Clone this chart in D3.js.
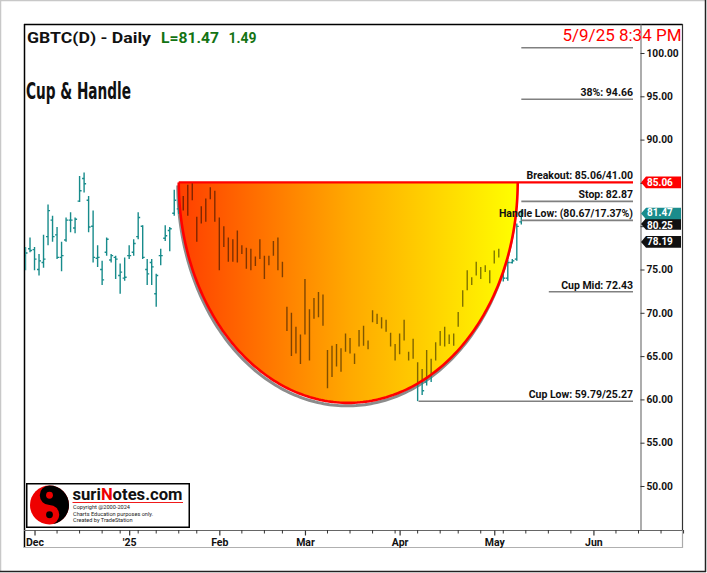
<!DOCTYPE html>
<html><head><meta charset="utf-8">
<script src="https://cdn.jsdelivr.net/npm/d3@7"></script>
<style>body{margin:0;background:#fff;}svg{display:block;}</style>
</head><body><svg id="c" width="707" height="573"></svg>
<script>
// ---------- DATA ----------
const dates = [
"2024-11-27","2024-11-29",
"2024-12-02","2024-12-03","2024-12-04","2024-12-05","2024-12-06","2024-12-09","2024-12-10","2024-12-11","2024-12-12","2024-12-13",
"2024-12-16","2024-12-17","2024-12-18","2024-12-19","2024-12-20","2024-12-23","2024-12-24","2024-12-26","2024-12-27","2024-12-30","2024-12-31",
"2025-01-02","2025-01-03","2025-01-06","2025-01-07","2025-01-08","2025-01-10","2025-01-13","2025-01-14","2025-01-15","2025-01-16","2025-01-17",
"2025-01-21","2025-01-22","2025-01-23","2025-01-24","2025-01-27","2025-01-28","2025-01-29","2025-01-30","2025-01-31",
"2025-02-03","2025-02-04","2025-02-05","2025-02-06","2025-02-07","2025-02-10","2025-02-11","2025-02-12","2025-02-13","2025-02-14",
"2025-02-18","2025-02-19","2025-02-20","2025-02-21","2025-02-24","2025-02-25","2025-02-26","2025-02-27","2025-02-28",
"2025-03-03","2025-03-04","2025-03-05","2025-03-06","2025-03-07","2025-03-10","2025-03-11","2025-03-12","2025-03-13","2025-03-14",
"2025-03-17","2025-03-18","2025-03-19","2025-03-20","2025-03-21","2025-03-24","2025-03-25","2025-03-26","2025-03-27","2025-03-28","2025-03-31",
"2025-04-01","2025-04-02","2025-04-03","2025-04-04","2025-04-07","2025-04-08","2025-04-09","2025-04-10","2025-04-11",
"2025-04-14","2025-04-15","2025-04-16","2025-04-17","2025-04-21","2025-04-22","2025-04-23","2025-04-24","2025-04-25",
"2025-04-28","2025-04-29","2025-04-30","2025-05-01","2025-05-02","2025-05-05","2025-05-06","2025-05-07","2025-05-08","2025-05-09"
];
const open = [
76.6,77.4,77.3,75.0,75.8,78.8,80.7,79.0,76.4,78.4,
80.7,79.8,82.9,85.5,83.0,80.0,76.3,75.0,77.0,76.1,
76.4,74.3,74.0,76.6,77.0,78.8,80.0,75.0,75.8,72.2,
76.6,78.6,79.5,81.5,82.0,83.0,82.0,84.5,81.0,80.5,
81.0,84.3,83.8,77.0,79.5,78.5,77.0,76.0,77.5,77.0,
75.8,76.2,76.5,76.5,75.6,76.8,78.5,75.5,70.5,68.8,
66.5,66.0,73.5,68.5,70.5,70.0,71.0,65.0,63.0,65.5,
64.0,66.0,66.5,65.0,66.5,67.5,66.5,69.5,69.5,69.0,
68.8,67.5,65.0,66.0,68.0,65.3,66.5,62.5,62.0,62.0,
63.0,65.0,66.8,66.5,67.2,66.5,68.5,71.0,73.0,74.0,
74.5,75.0,75.2,74.5,75.8,77.0,74.5,74.0,75.8,76.2,80.5];
const high = [
77.6,78.7,77.6,76.8,79.0,82.5,81.2,79.9,78.2,81.0,
81.6,81.0,85.8,86.2,83.5,81.8,77.8,76.0,78.7,76.8,
76.6,75.7,76.4,77.8,78.5,81.6,80.1,76.2,76.2,74.5,
77.4,80.1,79.9,84.2,83.8,83.5,84.8,85.1,81.1,82.3,
83.2,84.5,84.1,81.0,80.0,78.7,78.5,79.5,77.8,77.5,
77.4,76.5,78.5,76.6,76.6,78.3,78.7,75.9,70.7,70.0,
68.4,67.5,73.9,70.4,71.7,72.4,72.1,65.7,66.2,66.4,
65.9,67.6,67.1,65.3,68.0,68.5,66.8,70.3,69.9,69.5,
69.2,67.7,66.4,67.6,69.2,65.5,67.0,64.3,63.5,65.7,
64.7,66.6,67.9,68.4,67.5,67.6,70.1,72.6,74.9,74.1,
75.9,75.3,75.5,74.9,77.2,77.4,74.9,76.1,76.2,80.3,81.9];
const low = [
74.9,77.0,74.9,74.3,75.2,77.8,78.2,76.2,74.8,78.2,
79.3,79.2,82.8,83.9,79.3,75.8,75.3,73.2,76.6,75.8,
73.9,72.2,73.7,76.2,76.6,78.5,76.2,73.2,73.2,70.7,
75.5,78.3,77.1,81.2,81.4,81.8,81.2,83.0,78.2,80.3,
80.5,83.1,80.5,74.9,77.6,75.9,75.9,75.8,76.8,75.1,
74.9,75.4,76.2,73.9,75.5,76.6,74.9,74.1,67.9,65.0,
65.3,64.1,67.5,64.5,69.3,69.5,68.5,61.3,62.6,63.8,
63.2,65.5,65.3,64.1,66.1,66.2,65.8,68.9,68.7,68.2,
67.8,66.1,64.5,65.2,66.8,64.5,64.7,59.8,60.5,61.6,
62.0,64.5,66.2,66.1,66.4,66.2,68.4,70.7,72.6,73.2,
74.3,73.9,74.7,73.4,75.7,76.4,73.6,73.7,75.7,76.0,80.2];
const close = [
76.9,77.2,76.2,76.0,76.2,81.8,78.8,76.4,76.6,80.7,
80.7,80.8,84.1,84.9,79.9,76.4,76.4,73.8,78.5,76.6,
76.2,74.7,74.1,76.6,78.0,81.0,76.4,74.5,75.3,74.3,
76.6,78.9,79.7,83.0,83.2,82.5,84.0,83.5,79.0,81.5,
83.0,83.5,81.0,80.5,78.0,76.5,76.8,79.2,77.2,75.5,
76.5,75.6,78.2,74.5,76.2,77.5,75.2,74.4,68.5,66.0,
67.5,67.0,68.0,69.8,69.8,72.0,69.0,62.0,65.5,64.0,
65.5,67.0,65.6,64.8,67.5,66.8,66.2,69.8,69.0,68.5,
68.0,66.5,66.2,67.3,67.0,64.8,65.0,63.0,61.0,64.5,
64.2,66.3,67.2,67.0,66.8,67.4,69.9,72.4,74.5,73.6,
75.5,74.6,75.0,73.9,76.9,76.8,74.0,75.8,76.0,79.98,81.47];

const yTicks = [50,55,60,65,70,75,80,85,90,95,100];
const yTicksHiddenByTags = [80,85];
const monthNames = ["Jan","Feb","Mar","Apr","May","Jun","Jul","Aug","Sep","Oct","Nov","Dec"];
const futureEnd = "2025-06-30";

// cup geometry in data terms (bar position index, price)
const cupLeftPos = 34, cupRightPos = 109.2, cupRim = 85.06, cupBase = 59.6;

// annotation levels
const levelValues = [100.61, 94.66, 82.87, 80.67, 72.43, 59.79];
const levelLabels = ["", "38%: 94.66", "Stop: 82.87", "Handle Low: (80.67/17.37%)", "Cup Mid: 72.43", "Cup Low: 59.79/25.27"];
const levelStartPos = [110, 110, 110, 110, 116.1, 87.2];
const breakoutValue = 85.06, breakoutLabel = "Breakout: 85.06/41.00";

// price tags on right axis
const tagValues = [85.06, 80.25, 81.47, 78.19];
const tagColors = ["#ff0000", "#111111", "#1a8c8c", "#111111"];
const tagTextShift = [3.6, 4.6, 3.0, 3.6];

// ---------- CHART ----------
const svg = d3.select("#c");
const FONT = "Roboto, 'DejaVu Sans', sans-serif";
const parse = d3.timeParse("%Y-%m-%d");
const dataDates = dates.map(parse);
const futureDates = d3.timeDay.range(d3.timeDay.offset(dataDates[dataDates.length-1],1), d3.timeDay.offset(parse(futureEnd),1))
  .filter(d => d.getDay() !== 0 && d.getDay() !== 6);
const calendar = dataDates.concat(futureDates);

const plotL = 24, plotR = 640, plotT = 24, plotB = 530;
const x = d3.scaleLinear().domain([-1/3, 136.333]).range([plotL, plotR]);
const y = d3.scaleLinear().domain([44.919, 103.349]).range([plotB, plotT]);

// outer frame
svg.append("rect").attr("x",0).attr("y",0).attr("width",707).attr("height",573).attr("fill","#fff");
svg.append("line").attr("x1",0.5).attr("x2",0.5).attr("y1",0).attr("y2",572).attr("stroke","#c8c8c8").attr("stroke-width",1.5);
svg.append("line").attr("x1",0).attr("x2",706).attr("y1",0.5).attr("y2",0.5).attr("stroke","#c8c8c8").attr("stroke-width",1.5);
svg.append("line").attr("x1",705.5).attr("x2",705.5).attr("y1",0).attr("y2",572).attr("stroke","#222").attr("stroke-width",1.5);
svg.append("line").attr("x1",0).attr("x2",706).attr("y1",571.5).attr("y2",571.5).attr("stroke","#222").attr("stroke-width",1.5);

// inner frame
svg.append("line").attr("x1",24).attr("x2",682.5).attr("y1",24.5).attr("y2",24.5).attr("stroke","#000").attr("stroke-width",1.5);
svg.append("line").attr("x1",24.5).attr("x2",24.5).attr("y1",24).attr("y2",548).attr("stroke","#000").attr("stroke-width",1.5);
svg.append("line").attr("x1",682.5).attr("x2",682.5).attr("y1",24).attr("y2",530).attr("stroke","#333").attr("stroke-width",1.2);
svg.append("line").attr("x1",682.5).attr("x2",682.5).attr("y1",530).attr("y2",548).attr("stroke","#aaa").attr("stroke-width",1.2);
svg.append("line").attr("x1",24).attr("x2",683).attr("y1",547.5).attr("y2",547.5).attr("stroke","#b0b0b0").attr("stroke-width",1.2);

// clip
const defs = svg.append("defs");
defs.append("clipPath").attr("id","plotclip").append("rect")
  .attr("x",plotL+1.2).attr("y",plotT).attr("width",plotR-plotL-1.2).attr("height",plotB-plotT);

// gradient
const xL = x(cupLeftPos), xR = x(cupRightPos), yTop = y(cupRim), yBot = y(cupBase);
const grad = defs.append("linearGradient").attr("id","cupgrad").attr("gradientUnits","userSpaceOnUse")
  .attr("x1",xL).attr("x2",xR).attr("y1",0).attr("y2",0);
grad.append("stop").attr("offset","0").attr("stop-color","#ff3f00");
grad.append("stop").attr("offset","0.5").attr("stop-color","#ffa800");
grad.append("stop").attr("offset","1").attr("stop-color","#ffff00");

// cup curve
const cx = (xL+xR)/2, rx = (xR-xL)/2, ry = yBot-yTop;
const curvePts = d3.range(0,181).map(k => {const t = Math.PI*k/180; return [cx - rx*Math.cos(t), yTop + ry*Math.sin(t)];});
const curveLine = d3.line();
const cupPath = curveLine(curvePts) + "Z";
defs.append("clipPath").attr("id","cupclip").append("path").attr("d", cupPath);

const plot = svg.append("g").attr("clip-path","url(#plotclip)");

// shadow of cup rim
plot.append("path").attr("d", curveLine(curvePts)).attr("fill","none")
  .attr("stroke","#8c8c8c").attr("stroke-width",3).attr("transform","translate(-1,3)");

// OHLC bars
const bars = dates.map((d,i)=>({p:i,o:open[i],h:high[i],l:low[i],c:close[i]}));
const teal = "#178b8b";
const bg = plot.append("g").attr("stroke",teal).attr("stroke-width",1.4);
bars.forEach(b => {
  const px = x(b.p);
  bg.append("line").attr("x1",px).attr("x2",px).attr("y1",y(b.h)).attr("y2",y(b.l));
  bg.append("line").attr("x1",px-2).attr("x2",px).attr("y1",y(b.o)).attr("y2",y(b.o));
  bg.append("line").attr("x1",px).attr("x2",px+2).attr("y1",y(b.c)).attr("y2",y(b.c));
});

// cup fill
plot.append("path").attr("d", cupPath).attr("fill","url(#cupgrad)");
// bars seen through the cup
const dg = plot.append("g").attr("clip-path","url(#cupclip)").attr("stroke","#000").attr("stroke-opacity",0.5).attr("stroke-width",1.4);
bars.forEach(b => {
  const px = x(b.p);
  dg.append("line").attr("x1",px).attr("x2",px).attr("y1",y(b.h)).attr("y2",y(b.l));
});
// red rim
plot.append("path").attr("d", curveLine(curvePts)).attr("fill","none").attr("stroke","#ff0000").attr("stroke-width",2.6);

// annotation lines
const annRight = plotR - 7;
const ann = svg.append("g");
levelValues.forEach((v,k) => {
  ann.append("line").attr("x1",x(levelStartPos[k])).attr("x2",annRight).attr("y1",y(v)).attr("y2",y(v))
    .attr("stroke","#808080").attr("stroke-width",1.6);
  if (levelLabels[k]) ann.append("text").attr("x",annRight).attr("y",y(v)-3).attr("text-anchor","end")
    .attr("font-family",FONT).attr("font-weight",700).attr("font-size",10.5).attr("fill","#111").text(levelLabels[k]);
});
ann.append("line").attr("x1",xL).attr("x2",annRight).attr("y1",y(breakoutValue)).attr("y2",y(breakoutValue))
  .attr("stroke","#ff0000").attr("stroke-width",2.2);
ann.append("text").attr("x",annRight).attr("y",y(breakoutValue)-3.2).attr("text-anchor","end")
  .attr("font-family",FONT).attr("font-weight",700).attr("font-size",10.5).attr("fill","#111").text(breakoutLabel);

// y axis (right)
const yAxis = d3.axisRight(y).tickValues(yTicks).tickSize(4).tickSizeOuter(0).tickPadding(2)
  .tickFormat(v => yTicksHiddenByTags.includes(v) ? "" : d3.format(".2f")(v));
const ya = svg.append("g").attr("transform",`translate(${plotR+0.5},0)`).call(yAxis);
ya.select(".domain").attr("stroke","#808080").attr("stroke-width",1.3);
ya.selectAll(".tick line").attr("stroke","#333");
ya.selectAll(".tick text").attr("font-family",FONT).attr("font-weight",700).attr("font-size",10.2).attr("fill","#111");

// x axis
const xa = svg.append("g");
xa.append("line").attr("x1",plotL).attr("x2",682.5).attr("y1",plotB+0.5).attr("y2",plotB+0.5).attr("stroke","#666").attr("stroke-width",1.2);
const majors = [], minors = [];
calendar.forEach((d,p) => {
  if (p === 0) return;
  const prev = calendar[p-1];
  if (d.getMonth() !== prev.getMonth()) majors.push({p, d});
  else if (d.getDay() < prev.getDay()) minors.push(p);
});
minors.forEach(p => xa.append("line").attr("x1",x(p)).attr("x2",x(p)).attr("y1",plotB).attr("y2",plotB+3.5).attr("stroke","#333"));
const xAxis = d3.axisBottom(x).tickValues(majors.map(m=>m.p)).tickSize(5).tickSizeOuter(0).tickPadding(3)
  .tickFormat(p => { const d = calendar[p]; return d.getMonth()===0 ? "'" + String(d.getFullYear()).slice(2) : monthNames[d.getMonth()]; });
const xg = svg.append("g").attr("transform",`translate(0,${plotB+0.5})`).call(xAxis);
xg.select(".domain").remove();
xg.selectAll(".tick line").attr("stroke","#333").attr("stroke-width",1.2);
xg.selectAll(".tick text").attr("font-family",FONT).attr("font-weight",700).attr("font-size",10.5).attr("fill","#111");

// price tags
tagValues.forEach((v,k) => {
  const ty = y(v);
  svg.append("path").attr("d", `M${plotR+1},${ty} L${plotR+6},${ty-5.8} L681,${ty-5.8} L681,${ty+5.8} L${plotR+6},${ty+5.8} Z`)
    .attr("fill", tagColors[k]);
  svg.append("text").attr("x",plotR+7).attr("y",ty+tagTextShift[k]).attr("font-family",FONT).attr("font-weight",700)
    .attr("font-size",10).attr("fill","#fff").text(d3.format(".2f")(v));
});

// titles
svg.append("text").attr("x",27).attr("y",43.3).attr("font-family",FONT).attr("font-weight",700).attr("font-size",15.5)
  .attr("fill","#111").attr("textLength",124).attr("lengthAdjust","spacingAndGlyphs").text("GBTC(D) - Daily");
svg.append("text").attr("x",161).attr("y",43.3).attr("font-family",FONT).attr("font-weight",700).attr("font-size",15.5)
  .attr("fill","#137313").attr("textLength",58).attr("lengthAdjust","spacingAndGlyphs").text("L=81.47");
svg.append("text").attr("x",228.5).attr("y",43.3).attr("font-family",FONT).attr("font-weight",700).attr("font-size",15.5)
  .attr("fill","#137313").attr("textLength",28).attr("lengthAdjust","spacingAndGlyphs").text("1.49");
svg.append("text").attr("x",26).attr("y",99.3).attr("font-family","'Liberation Sans Narrow','DejaVu Sans Condensed',Roboto,sans-serif")
  .attr("font-weight",700).attr("font-size",23).attr("fill","#111").attr("textLength",105).attr("lengthAdjust","spacingAndGlyphs").text("Cup & Handle");
svg.append("text").attr("x",681.5).attr("y",40.7).attr("text-anchor","end").attr("font-family",FONT).attr("font-size",16)
  .attr("fill","#ff0000").attr("textLength",119).attr("lengthAdjust","spacingAndGlyphs").text("5/9/25 8:34 PM");

// logo
const lg = svg.append("g");
lg.append("rect").attr("x",26.75).attr("y",483.75).attr("width",162.5).attr("height",43.5).attr("fill","#fff").attr("stroke","#000").attr("stroke-width",1.5);
const lcx = 49.5, lcy = 505, R = 19.5;
lg.append("circle").attr("cx",lcx).attr("cy",lcy).attr("r",R).attr("fill","#ee0000");
lg.append("path").attr("d",`M${lcx},${lcy-R} A${R},${R} 0 0 1 ${lcx},${lcy+R} A${R/2},${R/2} 0 0 0 ${lcx},${lcy} A${R/2},${R/2} 0 0 1 ${lcx},${lcy-R} Z`).attr("fill","#000");
lg.append("circle").attr("cx",lcx).attr("cy",lcy-R/2).attr("r",3.4).attr("fill","#ee0000");
lg.append("circle").attr("cx",lcx).attr("cy",lcy+R/2).attr("r",3.4).attr("fill","#000");
const lt = lg.append("text").attr("x",72.5).attr("y",500).attr("font-family",FONT).attr("font-weight",700).attr("font-size",17)
  .attr("fill","#111").attr("textLength",110).attr("lengthAdjust","spacingAndGlyphs");
lt.append("tspan").text("suri");
lt.append("tspan").attr("fill","#ee0000").text("N");
lt.append("tspan").text("otes.com");
lg.append("line").attr("x1",72.5).attr("x2",183).attr("y1",502.5).attr("y2",502.5).attr("stroke","#ee0000").attr("stroke-width",0.9);
[["Copyright @2000-2024",508.8],["Charts Education purposes only.",515.6],["Created by TradeStation",522.4]].forEach(([t,yy]) =>
  lg.append("text").attr("x",73).attr("y",yy).attr("font-family",FONT).attr("font-size",5.6).attr("fill","#222").text(t));
</script></body></html>
